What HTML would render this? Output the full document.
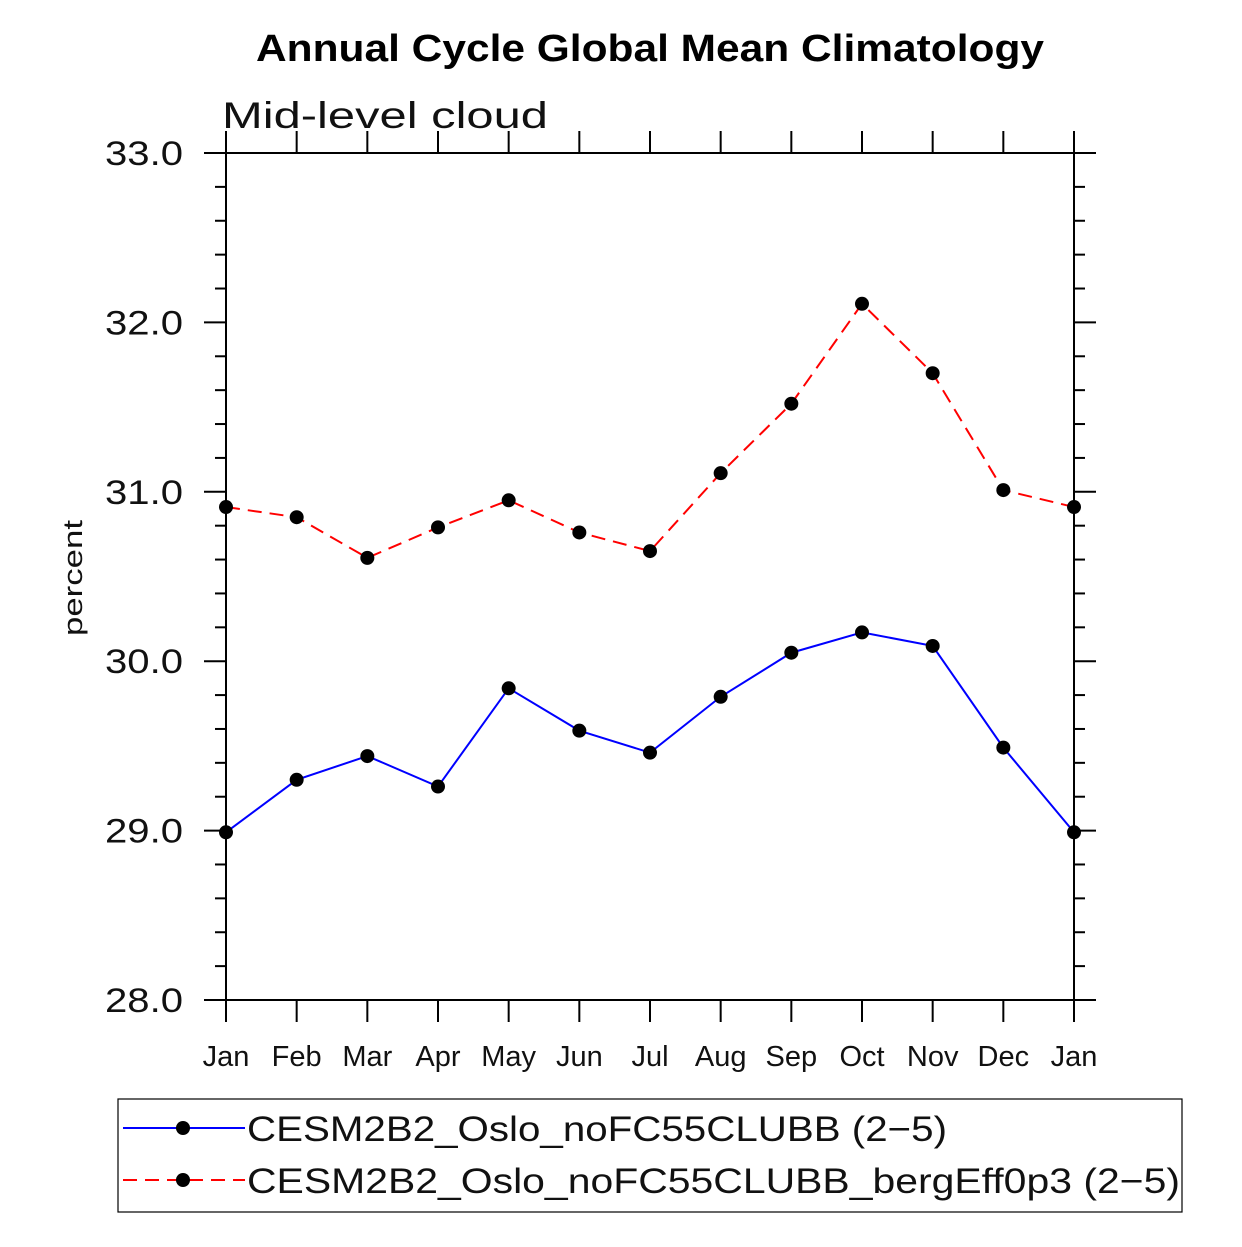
<!DOCTYPE html>
<html><head><meta charset="utf-8"><style>
body{margin:0;background:#fff}
svg text{font-family:"Liberation Sans",sans-serif}
</style></head><body>
<svg id="chart" width="1242" height="1242" xmlns="http://www.w3.org/2000/svg">
<text x="256" y="61" font-size="38" font-weight="bold" textLength="788" lengthAdjust="spacingAndGlyphs">Annual Cycle Global Mean Climatology</text>
<text x="222" y="128" font-size="37" fill="#111" textLength="326" lengthAdjust="spacingAndGlyphs">Mid-level cloud</text>
<text transform="translate(82,578) rotate(-90)" text-anchor="middle" font-size="27" fill="#111" textLength="116" lengthAdjust="spacingAndGlyphs">percent</text>
<g id="axes"></g>
<g id="series"></g>
<rect x="118" y="1099" width="1064" height="113" fill="none" stroke="#000" stroke-width="1.2"/>
<g>
<line x1="123" y1="1128" x2="245" y2="1128" stroke="#0000ff" stroke-width="2"/>
<circle cx="183" cy="1128" r="7"/>
<text x="247" y="1141" font-size="35" fill="#111" textLength="700" lengthAdjust="spacingAndGlyphs">CESM2B2_Oslo_noFC55CLUBB (2−5)</text></g>
<g>
<line x1="123" y1="1180" x2="245" y2="1180" stroke="#ff0000" stroke-width="2" stroke-dasharray="14,8"/>
<circle cx="183" cy="1180" r="7"/>
<text x="247" y="1193" font-size="35" fill="#111" textLength="933" lengthAdjust="spacingAndGlyphs">CESM2B2_Oslo_noFC55CLUBB_bergEff0p3 (2−5)</text></g>
</svg>
<script>
const months=["Jan","Feb","Mar","Apr","May","Jun","Jul","Aug","Sep","Oct","Nov","Dec","Jan"];
const blueValues=[28.99,29.30,29.44,29.26,29.84,29.59,29.46,29.79,30.05,30.17,30.09,29.49,28.99];
const redValues=[30.91,30.85,30.61,30.79,30.95,30.76,30.65,31.11,31.52,32.11,31.70,31.01,30.91];
const yTicks=[28,29,30,31,32,33];
const yTickLabels=["28.0","29.0","30.0","31.0","32.0","33.0"];
const NS="http://www.w3.org/2000/svg";
const X0=226,X1=1074,Y0=1000,Y1=153,YMIN=28,YMAX=33;
const xs=i=>X0+(X1-X0)*i/(months.length-1);
const ys=v=>Y0-(v-YMIN)/(YMAX-YMIN)*(Y0-Y1);
function mk(p,t,a){const e=document.createElementNS(NS,t);for(const k in a)e.setAttribute(k,a[k]);p.appendChild(e);return e;}
const ax=document.getElementById('axes');
const frame=mk(ax,'rect',{x:X0,y:Y1,width:X1-X0,height:Y0-Y1,fill:'none',stroke:'#000','stroke-width':2});


for(let v=YMIN;v<=YMAX+1e-9;v+=0.2){
  const y=ys(v);const major=Math.abs(v-Math.round(v))<1e-6;
  const L=major?22:11;
  mk(ax,'line',{x1:X0-L,y1:y,x2:X0,y2:y,stroke:'#000','stroke-width':2});
  mk(ax,'line',{x1:X1,y1:y,x2:X1+L,y2:y,stroke:'#000','stroke-width':2});
}
yTicks.forEach((v,i)=>{
  const t=mk(ax,'text',{x:183,y:ys(v)+12,'text-anchor':'end','font-size':34,fill:'#111',textLength:78,lengthAdjust:'spacingAndGlyphs'});
  t.textContent=yTickLabels[i];
  
  
});
months.forEach((m,i)=>{
  const x=xs(i);
  mk(ax,'line',{x1:x,y1:Y0,x2:x,y2:Y0+22,stroke:'#000','stroke-width':2});
  mk(ax,'line',{x1:x,y1:Y1-22,x2:x,y2:Y1,stroke:'#000','stroke-width':2});
  const t=mk(ax,'text',{x:x,y:1066,'text-anchor':'middle','font-size':29,fill:'#111'});
  t.textContent=m;
  
  
});
const sg=document.getElementById('series');
function drawSeries(vals,color,dash,name){
  const g=mk(sg,'g',{});
  
  
  const pl=mk(g,'polyline',{points:vals.map((v,i)=>xs(i)+','+ys(v)).join(' '),fill:'none',stroke:color,'stroke-width':2,'stroke-dasharray':dash});
  
  
  vals.forEach((v,i)=>{
    const c=mk(g,'circle',{cx:xs(i),cy:ys(v),r:7,fill:'#000'});
    
    
  });
}
drawSeries(redValues,'#ff0000','14,8','bergeff-series');
drawSeries(blueValues,'#0000ff','none','nofc55-series');
</script>
</body></html>
